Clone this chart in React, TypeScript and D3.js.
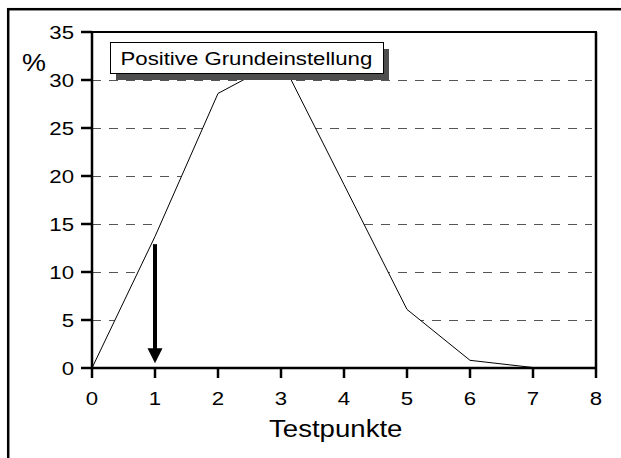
import React from "react";
import * as d3 from "d3";

const xValues = [0, 1, 2, 3, 4, 5, 6, 7];
const yValues = [0, 13.7, 28.6, 32.1, 19.1, 6.1, 0.8, 0.05];
const xTicks = [0, 1, 2, 3, 4, 5, 6, 7, 8];
const yTicks = [0, 5, 10, 15, 20, 25, 30, 35];
const gridValues = [5, 10, 15, 20, 25, 30];
const arrowX = 1;
const arrowFrom = 12.9;
const arrowTo = 0.5;
const yLabel = "%";
const xLabel = "Testpunkte";
const boxLabel = "Positive Grundeinstellung";

const W = 621;
const H = 458;
const left = 92;
const right = 596;
const top = 32;
const bottom = 368;
const SX = 1.17;
const FONT = "'Liberation Sans', Arial, Helvetica, sans-serif";

export default function App() {
  const x = d3.scaleLinear().domain([0, 8]).range([left, right]);
  const y = d3.scaleLinear().domain([0, 35]).range([bottom, top]);
  const pts = xValues.map((v, i) => [v, yValues[i]] as [number, number]);
  const area = d3
    .area<[number, number]>()
    .x((d) => x(d[0]))
    .y0(y(0))
    .y1((d) => y(d[1]))(pts) as string;
  const line = d3
    .line<[number, number]>()
    .x((d) => x(d[0]))
    .y((d) => y(d[1]))(pts) as string;

  const ax = x(arrowX);
  const ay1 = y(arrowFrom);
  const ay2 = y(arrowTo);

  return (
    <svg
      width={W}
      height={H}
      style={{ position: "absolute", left: 0, top: 0, background: "#fff" }}
      fontFamily={FONT}
    >
      <rect x={0} y={0} width={W} height={H} fill="#fff" />
      {/* outer border */}
      <rect x={8.2} y={9.2} width={W + 20} height={H + 20} fill="none" stroke="#000" strokeWidth={2.5} />

      {/* gridlines */}
      {gridValues.map((g) => (
        <line
          key={g}
          x1={left}
          x2={right - 4}
          y1={Math.round(y(g)) + 0.5}
          y2={Math.round(y(g)) + 0.5}
          stroke="#555"
          strokeWidth={1}
          strokeDasharray="9,8"
        />
      ))}

      {/* area with white fill covering gridlines */}
      <path d={area} fill="#fff" stroke="none" />
      <path d={line} fill="none" stroke="#000" strokeWidth={1} />

      {/* frame */}
      <line x1={left} x2={right + 1} y1={top} y2={top} stroke="#000" strokeWidth={2} />
      <line x1={right} x2={right} y1={top} y2={bottom} stroke="#000" strokeWidth={2.5} />
      <line x1={left} x2={left} y1={top - 1} y2={bottom + 1} stroke="#000" strokeWidth={2.5} />
      <line x1={left - 1} x2={right + 1} y1={bottom} y2={bottom} stroke="#000" strokeWidth={2.5} />

      {/* y ticks */}
      {yTicks.map((t) => (
        <g key={t}>
          <line x1={left - 11} x2={left} y1={y(t)} y2={y(t)} stroke="#000" strokeWidth={2.5} />
          <text
            transform={`translate(${left - 18},${y(t) + 7}) scale(${SX},1)`}
            textAnchor="end"
            fontSize={19}
            fill="#000"
          >
            {t}
          </text>
        </g>
      ))}

      {/* x ticks */}
      {xTicks.map((t) => (
        <g key={t}>
          <line x1={x(t)} x2={x(t)} y1={bottom} y2={bottom + 10} stroke="#000" strokeWidth={2.5} />
          <text
            transform={`translate(${x(t)},${405}) scale(${SX},1)`}
            textAnchor="middle"
            fontSize={19}
            fill="#000"
          >
            {t}
          </text>
        </g>
      ))}

      {/* axis labels */}
      <text transform={`translate(22,71) scale(${SX},1)`} fontSize={23} fill="#000">
        {yLabel}
      </text>
      <text transform={`translate(269,437) scale(1.15,1)`} fontSize={24} fill="#000">
        {xLabel}
      </text>

      {/* arrow */}
      <line x1={ax} x2={ax} y1={ay1} y2={ay2 - 12} stroke="#000" strokeWidth={4} />
      <path d={`M${ax - 7.5},${ay2 - 15} L${ax + 7.5},${ay2 - 15} L${ax},${ay2} Z`} fill="#000" />

      {/* annotation box */}
      <rect x={116} y={49} width={273} height={31} fill="#4d4d4d" />
      <rect x={110.5} y={42.5} width={273} height={31} fill="#fff" stroke="#000" strokeWidth={1} />
      <text transform={`translate(120.5,65) scale(${SX},1)`} fontSize={19} fill="#000">
        {boxLabel}
      </text>
    </svg>
  );
}
